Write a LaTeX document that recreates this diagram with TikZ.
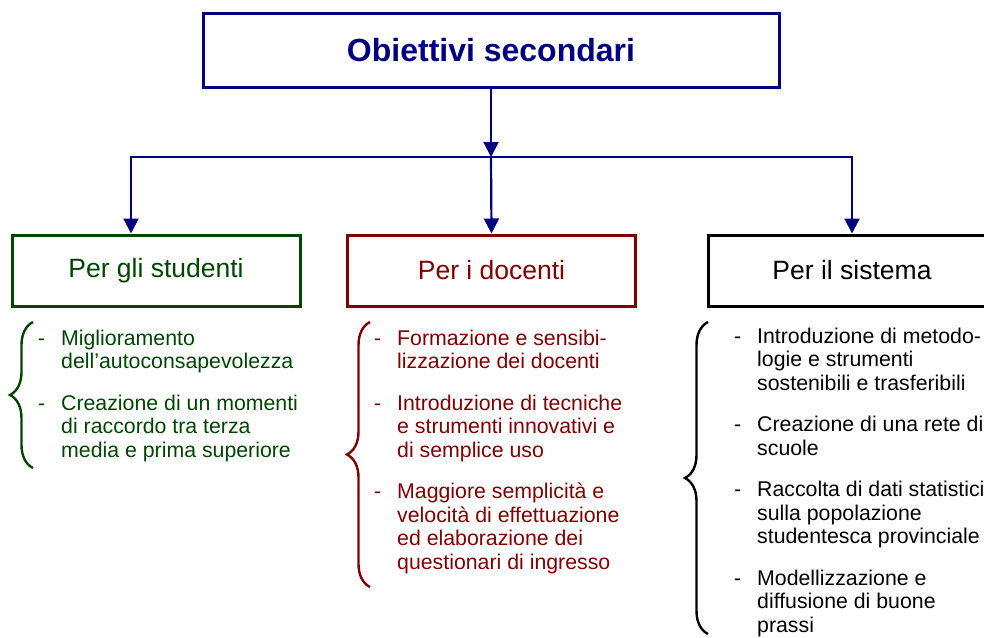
\documentclass[tikz,border=0pt]{standalone}
\usepackage{fontspec}
\setmainfont{Liberation Sans}
\usepackage{tikz}
\usetikzlibrary{arrows.meta,decorations.pathreplacing}
\definecolor{navy}{RGB}{0,0,128}
\definecolor{verde}{RGB}{0,70,0}
\definecolor{rosso}{RGB}{128,0,0}
\newcommand{\voci}[1]{\begin{tabular}[t]{@{}p{23pt}@{}l@{}}#1\end{tabular}}

\begin{document}
\begin{tikzpicture}[x=1pt,y=-1pt]

\tikzset{titolo/.style = {draw=navy,line width=3pt,minimum width=576pt,minimum height=74pt,text=navy,font=\fontsize{32}{38}\selectfont\bfseries}}
\tikzset{gruppo/.style = {draw=#1,text=#1,line width=3pt,minimum width=288pt,minimum height=71pt,font=\fontsize{26.5}{30}\selectfont}}
\tikzset{elenco/.style = {text=#1,anchor=base west,inner sep=0pt,font=\fontsize{21.3}{23.5}\selectfont}}
\tikzset{graffa/.style = {draw=#1,line width=2.4pt,decorate,decoration={brace,amplitude=23pt}}}
\tikzset{freccia/.style = {draw=navy,line width=2.2pt,-{Triangle[width=15pt,length=15pt]}}}
\clip (0,0) rectangle (984,637);
% boxes
\node[titolo] (obiettivi) at (491,50) {Obiettivi secondari};
\node[gruppo=verde] (studenti) at (156,270.5) {Per gli studenti};
\node[gruppo=rosso] (docenti) at (491.5,270.5) {Per i docenti};
\node[gruppo=black] (sistema) at (852,270.5) {Per il sistema};
% branching
\coordinate (bivio) at (491,157);
\coordinate (bivioS) at (131,157);
\coordinate (bivioD) at (852,157);
\draw[freccia] (obiettivi.south) -- (bivio);
\draw[freccia] (bivio) -- (bivioS) -- (bivioS |- studenti.north);
\draw[freccia] (bivio) -- (docenti.north);
\draw[freccia] (bivio) -- (bivioD) -- (sistema.north);
% lists
\node[elenco=verde] (vociS) at (38,345) {\voci{-& Miglioramento\\
  & dell’autoconsapevolezza\\[18pt]
  -& Creazione di un momenti\\
  & di raccordo tra terza\\
  & media e prima superiore}};
\node[elenco=rosso] (vociD) at (374,345) {\voci{-& Formazione e sensibi-\\
  & lizzazione dei docenti\\[18pt]
  -& Introduzione di tecniche\\
  & e strumenti innovativi e\\
  & di semplice uso\\[18pt]
  -& Maggiore semplicità e\\
  & velocità di effettuazione\\
  & ed elaborazione dei\\
  & questionari di ingresso}};
\node[elenco=black] (vociT) at (734,343) {\voci{-& Introduzione di metodo-\\
  & logie e strumenti\\
  & sostenibili e trasferibili\\[18pt]
  -& Creazione di una rete di\\
  & scuole\\[18pt]
  -& Raccolta di dati statistici\\
  & sulla popolazione\\
  & studentesca provinciale\\[18pt]
  -& Modellizzazione e\\
  & diffusione di buone\\
  & prassi}};
% braces
\draw[graffa=verde] (33,468) -- (33,322);
\draw[graffa=rosso] (370,587) -- (370,322);
\draw[graffa=black] (708,634) -- (708,322);
\end{tikzpicture}
\end{document}
